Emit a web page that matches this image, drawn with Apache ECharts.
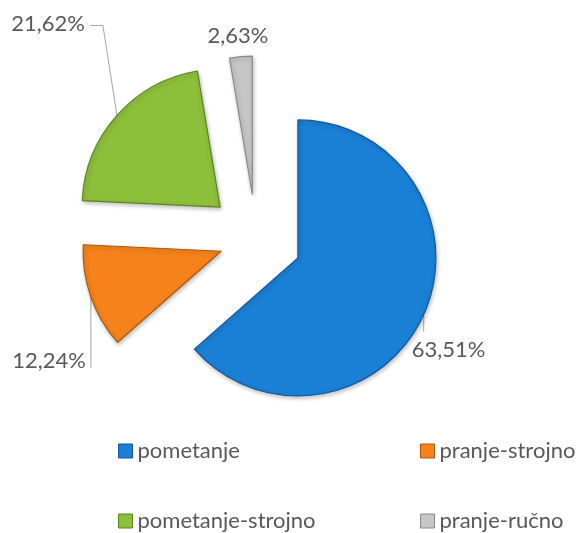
<!DOCTYPE html>
<html><head><meta charset="utf-8">
<script src="https://cdn.jsdelivr.net/npm/echarts@6/dist/echarts.min.js"></script>
<style>html,body{margin:0;padding:0;background:#fff}#c{width:582px;height:533px}</style>
</head><body><div id="c"></div>
<script>
var categories = ['pometanje', 'pranje-strojno', 'pometanje-strojno', 'pranje-ručno'];
var values = [63.51, 12.24, 21.62, 2.63];
var colors = ['#1a80d6', '#f5821a', '#8cbf3a', '#c6c6c6'];
var borders = ['#14579c', '#ab5a0c', '#5f8223', '#8c8c8c'];
var explode = [46, 37, 48, 45];
var FONT = 'Lato';
var TXT = '#595959';
var CENTER = [256, 239];
var RADIUS = 138;

// label placement relative to the point where the default leader line leaves each slice
var labelStyles = [
  {dx: -12, dy: 35, align: 'left', line: [[0, 0], [0, 17]]},
  {dx: -5, dy: 64, align: 'right', line: [[0, 0], [0, 71]]},
  {dx: -32, dy: -92, align: 'right', line: [[0, 0], [-14, -90], [-27, -90]]},
  {dx: -3, dy: -21, align: 'center', line: null}
];

var total = values.reduce(function (a, b) { return a + b; }, 0);
var hidden = {
  itemStyle: {color: 'rgba(0,0,0,0)', borderWidth: 0, shadowBlur: 0},
  label: {show: false}, labelLine: {show: false}
};
function blank(v) {
  return {name: '', value: v, itemStyle: hidden.itemStyle, label: hidden.label, labelLine: hidden.labelLine};
}

var series = [];
var cum = 0;
categories.forEach(function (n, i) {
  var mid = (90 - 360 * (cum + values[i] / 2) / total) * Math.PI / 180;
  var cx = CENTER[0] + explode[i] * Math.cos(mid);
  var cy = CENTER[1] - explode[i] * Math.sin(mid);
  var after = total - cum - values[i];
  var s = labelStyles[i];
  series.push({
    type: 'pie',
    center: [cx, cy],
    radius: [0, RADIUS],
    startAngle: 90,
    clockwise: true,
    minAngle: 0,
    avoidLabelOverlap: false,
    emphasis: {disabled: true},
    label: {
      show: true, position: 'outside',
      fontFamily: FONT, fontSize: 22, color: TXT,
      formatter: function (p) { return p.value.toFixed(2).replace('.', ',') + '%'; }
    },
    labelLine: {show: true, length: 20, length2: 10, lineStyle: {color: '#a6a6a6', width: 1}},
    labelLayout: function (p) {
      if (p.text === '' || !p.labelLinePoints) return {};
      var p0 = p.labelLinePoints[0];
      var out = {x: p0[0] + s.dx, y: p0[1] + s.dy, align: s.align, verticalAlign: 'middle'};
      out.labelLinePoints = s.line
        ? s.line.map(function (q) { return [p0[0] + q[0], p0[1] + q[1]]; })
        : [p0, p0];
      return out;
    },
    data: [
      blank(cum),
      {name: n, value: values[i],
       itemStyle: {color: colors[i], borderColor: borders[i], borderWidth: 1.2,
         shadowBlur: 4, shadowColor: 'rgba(0,0,0,0.25)', shadowOffsetX: 1, shadowOffsetY: 2}},
      blank(after)
    ]
  });
  cum += values[i];
});

function legendAt(name, left, top) {
  return {
    data: [name], left: left, top: top, orient: 'horizontal', padding: 0,
    itemWidth: 14, itemHeight: 14, icon: 'rect', itemGap: 0,
    itemStyle: {borderWidth: 1, shadowBlur: 0},
    textStyle: {fontFamily: FONT, fontSize: 22, color: TXT},
    selectedMode: false
  };
}
var chart = echarts.init(document.getElementById('c'), null, {renderer: 'canvas'});
chart.setOption({
  animation: false,
  legend: [
    legendAt(categories[0], 118, 440),
    legendAt(categories[1], 420, 440),
    legendAt(categories[2], 118, 510),
    legendAt(categories[3], 420, 510)
  ],
  series: series
});
</script></body></html>
